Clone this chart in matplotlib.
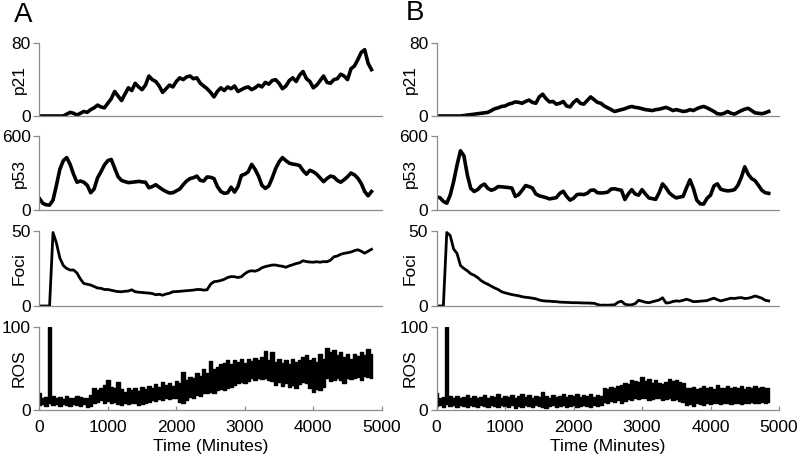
import numpy as np
import matplotlib
matplotlib.use("Agg")
import matplotlib.pyplot as plt

plt.rcParams['font.family'] = ['Liberation Sans', 'DejaVu Sans']

# ======================================
# Data (values read every 50 minutes)
# ======================================
STEP = 50

# --- Panel A ---
p21_a = [0, 0, 0, 0, 0, 0, 0, 0, 2, 4,
         3, 1, 3, 5, 4, 7, 9, 12, 10, 9,
         14, 19, 27, 22, 17, 24, 31, 28, 36, 32,
         29, 34, 44, 40, 38, 33, 26, 30, 34, 32,
         38, 42, 40, 43, 44, 41, 42, 36, 33, 30,
         26, 21, 27, 31, 28, 32, 30, 33, 27, 29,
         31, 32, 29, 31, 34, 32, 37, 35, 39, 40,
         36, 30, 33, 39, 42, 38, 45, 49, 41, 38,
         31, 34, 39, 44, 37, 36, 40, 41, 46, 44,
         40, 52, 55, 62, 70, 73, 58, 51]

p53_a = [95, 55, 42, 40, 80, 200, 330, 400, 425, 370,
         290, 225, 235, 225, 200, 140, 170, 260, 310, 365,
         400, 410, 340, 270, 240, 230, 222, 225, 228, 232,
         228, 225, 180, 190, 205, 185, 165, 150, 138, 140,
         155, 170, 205, 235, 255, 262, 275, 240, 235, 268,
         265, 255, 190, 150, 135, 140, 185, 145, 190, 280,
         290, 310, 370, 330, 275, 200, 175, 195, 260, 335,
         390, 425, 400, 380, 372, 368, 360, 320, 290, 322,
         310, 290, 260, 230, 255, 275, 268, 240, 225, 245,
         270, 300, 285, 258, 215, 150, 115, 150]

foci_a = [0, 0, 0, 0, 49, 42, 32, 27, 25, 24,
          24, 22, 18, 15, 14.5, 14, 13, 12, 11.8, 11,
          11, 10.5, 10, 9.6, 9.5, 9.8, 10, 10.8, 9.5, 9.2,
          9, 8.8, 8.6, 8.3, 7.5, 7.8, 7.2, 8, 8.5, 9.5,
          9.6, 9.8, 10, 10.2, 10.4, 10.6, 11, 11, 10.6, 10.8,
          14.5, 16.2, 16.5, 17, 17.8, 19, 19.6, 19.5, 19, 19.5,
          21.5, 23, 23.5, 23.2, 24, 25.5, 26.3, 26.8, 27.3, 27.3,
          26.8, 26.5, 25.8, 26.8, 27.5, 28.3, 28.8, 30.2, 29.6, 29.3,
          29.2, 29.5, 29.2, 29.6, 29.5, 30.5, 32.8, 33.3, 34.5, 35.1,
          35.5, 36, 36.9, 37.5, 36.5, 35.2, 36.5, 37.8]

# ROS fluctuates fast: upper / lower edge of the trace
ros_a_hi = [20, 14, 16, 100, 17, 15, 16, 13, 17, 15,
            14, 17, 16, 14, 15, 18, 26, 24, 27, 30,
            36, 28, 26, 34, 25, 22, 27, 24, 26, 23,
            28, 25, 29, 27, 31, 28, 34, 30, 33, 29,
            35, 32, 46, 36, 40, 38, 44, 41, 50, 45,
            59, 49, 52, 55, 57, 60, 56, 60, 58, 61,
            57, 62, 59, 63, 60, 64, 71, 60, 70, 58,
            62, 57, 60, 56, 62, 58, 60, 64, 66, 60,
            63, 58, 67, 62, 75, 70, 72, 66, 70, 64,
            67, 62, 68, 65, 70, 66, 73, 68]
ros_a_lo = [6, 7, 5, 8, 6, 7, 5, 7, 6, 5,
            7, 6, 5, 7, 4, 5, 8, 10, 12, 9,
            11, 8, 10, 7, 6, 8, 7, 9, 8, 6,
            7, 9, 10, 12, 11, 13, 12, 14, 13, 15,
            14, 10, 8, 12, 16, 15, 18, 17, 20, 21,
            22, 20, 24, 25, 24, 26, 28, 30, 32, 34,
            33, 35, 38, 36, 39, 37, 38, 36, 35, 30,
            34, 29, 32, 28, 30, 27, 31, 34, 33, 26,
            22, 25, 24, 28, 38, 35, 36, 38, 36, 33,
            39, 37, 38, 40, 36, 41, 40, 38]

# --- Panel B ---
p21_b = [0, 0, 0, 0, 0, 0, 0, 0, 0.5, 1,
         1.5, 2, 2.5, 3, 3.5, 4, 6, 8, 9, 10.5,
         11, 13, 14, 15.5, 15, 14, 16, 17.5, 15, 14,
         21, 24, 19, 15.5, 16, 13, 14, 16, 11, 10,
         15, 18, 14, 13, 17, 21, 18, 15, 14, 11,
         9, 7, 5, 6, 7, 8, 9.5, 10.5, 9.5, 9,
         8, 7, 6.5, 6, 7, 7.5, 8.5, 9.5, 8, 6,
         7, 6, 5, 5.5, 7, 6, 8, 9.5, 10.5, 9,
         7, 5, 2.5, 2, 3, 5, 3, 2, 4, 6,
         7.5, 8.5, 6, 3.5, 3, 2.5, 3.5, 5]

p53_b = [105, 100, 70, 55, 120, 230, 365, 480, 440, 285,
         175, 150, 165, 195, 210, 175, 160, 170, 190, 188,
         185, 182, 178, 110, 125, 160, 198, 190, 178, 130,
         115, 108, 100, 90, 95, 100, 135, 152, 110, 80,
         95, 125, 128, 125, 135, 160, 162, 140, 138, 140,
         145, 170, 172, 165, 160, 85, 130, 165, 130, 120,
         165, 130, 98, 92, 86, 140, 212, 180, 138, 115,
         98, 105, 110, 180, 245, 175, 80, 50, 48, 95,
         120, 195, 212, 168, 160, 155, 158, 165, 200, 265,
         350, 290, 255, 238, 200, 160, 140, 135]

foci_b = [0, 0, 0, 49, 47, 38, 35, 27, 25, 23.5,
          21.5, 20.5, 19, 17, 15.5, 14.5, 13.2, 12, 11, 9.5,
          8.8, 8.2, 7.6, 7.2, 6.8, 6.2, 5.8, 5.6, 5.2, 4.8,
          4, 3.5, 3.3, 3.2, 3, 2.9, 2.6, 2.5, 2.4, 2.3,
          2.2, 2.2, 2.1, 2, 2, 1.9, 1.8, 1, 0.5, 0.6,
          0.5, 0.7, 0.8, 2.5, 3.2, 1.2, 0.7, 0.8, 1.5, 3.8,
          3.2, 2.5, 2.2, 2.8, 3.4, 4, 5.5, 2, 2.2, 3,
          3.4, 3.2, 3.8, 4.5, 3.8, 2.9, 3, 3.2, 3.4, 3.6,
          4.5, 5.2, 4.2, 3.4, 4, 4.6, 5.2, 5, 5.4, 5.6,
          5, 5.2, 5.8, 6.7, 6, 5.2, 3.8, 3.4]

ros_b_hi = [20, 15, 16, 100, 17, 15, 17, 14, 16, 18,
            15, 17, 14, 16, 18, 15, 17, 16, 19, 15,
            17, 16, 18, 15, 17, 19, 16, 18, 15, 17,
            16, 22, 17, 15, 18, 16, 17, 19, 16, 18,
            17, 19, 16, 18, 17, 19, 16, 18, 17, 27,
            25, 28, 26, 29, 30, 33, 31, 36, 35, 34,
            40, 35, 37, 33, 36, 32, 31, 34, 37, 35,
            36, 34, 33, 27, 26, 28, 25, 27, 29, 26,
            28, 25, 30, 27, 26, 29, 27, 28, 26, 29,
            25, 28, 27, 29, 26, 28, 27, 26]
ros_b_lo = [5, 6, 4, 7, 5, 6, 4, 6, 5, 4,
            6, 5, 4, 6, 5, 4, 6, 5, 4, 6,
            5, 4, 6, 3, 5, 4, 6, 5, 4, 6,
            5, 4, 3, 5, 6, 4, 5, 6, 4, 5,
            6, 4, 5, 6, 5, 4, 6, 5, 6, 10,
            9, 11, 10, 12, 9, 11, 13, 12, 14, 13,
            15, 14, 12, 13, 15, 14, 12, 13, 14, 12,
            13, 11, 10, 6, 7, 5, 8, 7, 6, 8,
            7, 9, 8, 7, 9, 8, 7, 9, 8, 7,
            9, 8, 10, 9, 8, 10, 9, 10]

row_labels = ['p21', 'p53', 'Foci', 'ROS']
row_ymax = [80, 600, 50, 100]
x_ticks = [0, 1000, 2000, 3000, 4000, 5000]

# ======================================
# Layout (pixels -> figure fractions)
# ======================================
W, H = 800, 459
col_left = [39.3, 436.5]
col_width = 342.5
row_top = [43.3, 136, 231, 327]
row_bot = [116, 210, 306, 410]
AXIS_GREY = '#8c8c8c'
FS = 12.5


def style_axis(ax, ymax, label, bottom_row, label_x):
    ax.set_xlim(0, 5000)
    ax.set_ylim(0, ymax)
    for side in ['top', 'right']:
        ax.spines[side].set_visible(False)
    for side in ['left', 'bottom']:
        ax.spines[side].set_color(AXIS_GREY)
        ax.spines[side].set_linewidth(0.9)
    ax.set_yticks([0, ymax])
    ax.tick_params(axis='y', direction='out', length=4, width=0.9,
                   color=AXIS_GREY, labelsize=FS, pad=2)
    if bottom_row:
        ax.set_xticks(x_ticks)
        ax.tick_params(axis='x', direction='in', length=3, width=0.9,
                       color=AXIS_GREY, labelsize=FS, pad=7)
        ax.set_xlabel('Time (Minutes)', fontsize=FS, labelpad=3)
    else:
        ax.set_xticks([])
    ax.set_ylabel(label, fontsize=FS)
    ax.yaxis.set_label_coords(label_x, 0.5)


def plot_column(col, p21, p53, foci, ros_hi, ros_lo, label_x):
    axes = []
    for r in range(4):
        left = col_left[col] / W
        bottom = 1 - row_bot[r] / H
        height = (row_bot[r] - row_top[r]) / H
        ax = fig.add_axes([left, bottom, col_width / W, height])
        axes.append(ax)

    t = np.arange(len(p21)) * STEP
    axes[0].plot(t, p21, color='black', lw=2.6)
    t = np.arange(len(p53)) * STEP
    axes[1].plot(t, p53, color='black', lw=2.6)
    t = np.arange(len(foci)) * STEP
    axes[2].plot(t, foci, color='black', lw=2.0)
    t = np.arange(len(ros_hi)) * STEP
    axes[3].fill_between(t, ros_lo, ros_hi, step='mid', color='black', lw=1.0,
                         edgecolor='black')

    for r, ax in enumerate(axes):
        style_axis(ax, row_ymax[r], row_labels[r], r == 3, label_x)
    return axes


fig = plt.figure(figsize=(8, 4.59), dpi=100)

plot_column(0, p21_a, p53_a, foci_a, ros_a_hi, ros_a_lo, -0.036)
plot_column(1, p21_b, p53_b, foci_b, ros_b_hi, ros_b_lo, -0.054)

fig.text(23 / W, 1 - 14.5 / H, 'A', fontsize=20, ha='center', va='center')
fig.text(415 / W, 1 - 13.5 / H, 'B', fontsize=20, ha='center', va='center')

plt.savefig('out.png', dpi=100)
